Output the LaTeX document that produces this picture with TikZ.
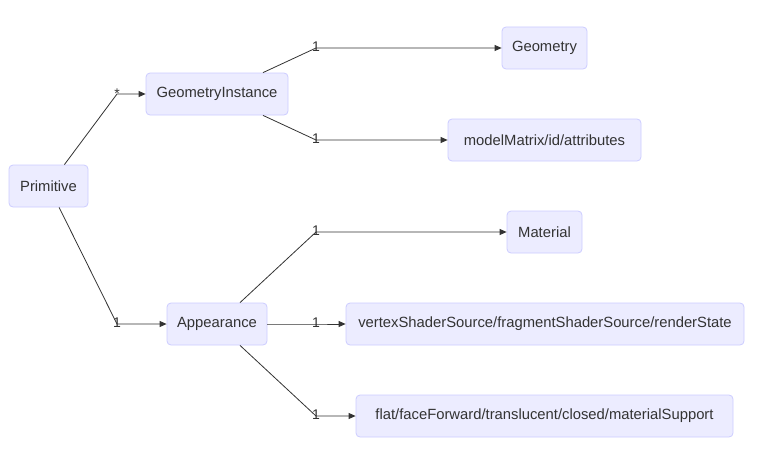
\documentclass[tikz,border=0pt]{standalone}
\usepackage{fontspec}
\setmainfont{Liberation Sans}
\usetikzlibrary{arrows.meta}
\definecolor{boxfill}{RGB}{236,236,255}
\definecolor{boxline}{RGB}{204,204,255}
\definecolor{inkgray}{RGB}{51,51,51}
\tikzset{
  classbox/.style={draw=boxline,fill=boxfill,line width=0.8pt,rounded corners=4pt,
    minimum height=42pt,inner xsep=2pt,text=inkgray,font=\fontsize{14.8}{17}\selectfont},
  relation/.style={draw=inkgray,line width=0.8pt,-{Triangle[length=7pt,width=6pt]}},
  multi/.style={text=inkgray,inner sep=0.75pt,font=\fontsize{14}{16}\selectfont}
}
\begin{document}
\begin{tikzpicture}[x=1pt,y=1pt,yscale=-1,xscale=1]
\useasboundingbox (0,0) rectangle (762,460);

% Class Nodes
\node [classbox,minimum width=79pt] (prim) at (48.5,186) {Primitive};
\node [classbox,minimum width=142pt] (geoinst) at (217,94) {GeometryInstance};
\node [classbox,minimum width=100pt] (appear) at (217,324) {Appearance};
\node [classbox,minimum width=85pt] (geom) at (544.5,48) {Geometry};
\node [classbox,minimum width=193pt] (modelmat) at (544.5,140) {modelMatrix/id/attributes};
\node [classbox,minimum width=75pt] (mater) at (544.5,232) {Material};
\node [classbox,minimum width=398pt] (shader) at (545,324) {vertexShaderSource/fragmentShaderSource/renderState};
\node [classbox,minimum width=377pt] (flags) at (544.5,416) {flat/faceForward/translucent/closed/materialSupport};

% Bend points
\coordinate (bgeoinst) at (117,94);
\coordinate (bappear) at (117,324);
\coordinate (bgeom) at (316,48);
\coordinate (bmodelmat) at (316,140);
\coordinate (bmater) at (316,232);
\coordinate (bshader) at (316,324);
\coordinate (bflags) at (316,416);

% Relations
\draw [relation] (prim) -- (bgeoinst) -- (geoinst);
\draw [relation] (prim) -- (bappear) -- (appear);
\draw [relation] (geoinst) -- (bgeom) -- (geom);
\draw [relation] (geoinst) -- (bmodelmat) -- (modelmat);
\draw [relation] (appear) -- (bmater) -- (mater);
\draw [relation] (appear) -- (bshader) -- (shader);
\draw [relation] (appear) -- (bflags) -- (flags);

% Multiplicity Text
\node [multi] (mgeoinst) at (117,94) {*};
\node [multi] (mappear) at (117,323) {1};
\node [multi] (mgeom) at (316,47) {1};
\node [multi] (mmodelmat) at (316,139) {1};
\node [multi] (mmater) at (316,231) {1};
\node [multi] (mshader) at (316,323) {1};
\node [multi] (mflags) at (316,415) {1};

\end{tikzpicture}
\end{document}
